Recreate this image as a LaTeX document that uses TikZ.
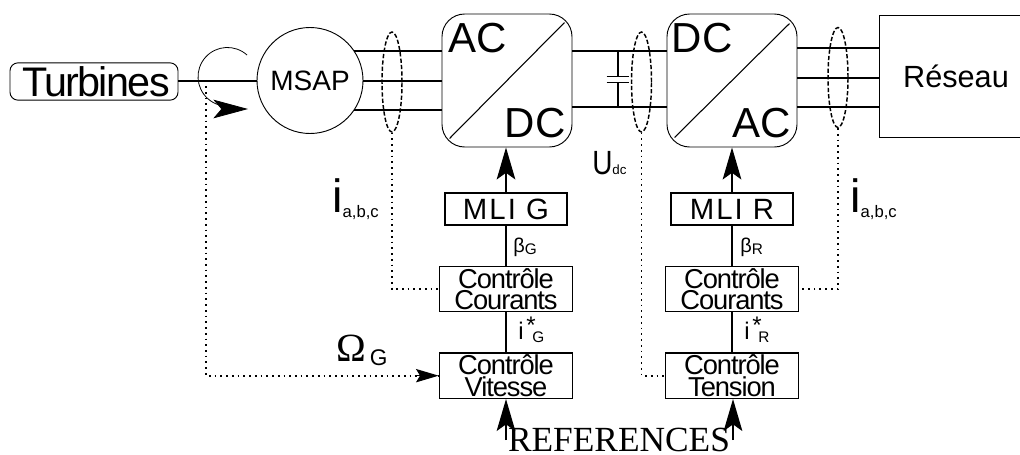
\documentclass[tikz,border=0pt]{standalone}
\usepackage{fontspec}
\setmainfont{Liberation Sans}
\newfontfamily\figserif{Liberation Serif}
\newfontfamily\figtight[LetterSpace=-4]{Liberation Sans}
\newfontfamily\figwide[LetterSpace=7]{Liberation Sans}
\usetikzlibrary{shapes.geometric, arrows.meta, positioning}
\newcommand{\fsize}[1]{\fontsize{#1}{#1}\selectfont}
\tikzstyle{conv} = [rectangle, rounded corners=17pt, draw=black, line width=0.7pt,
    minimum width=97.5pt, minimum height=99.75pt]
\tikzstyle{bigtext} = [inner sep=0pt, font=\fsize{31.5}]
\tikzstyle{ctrl} = [rectangle, draw=black, line width=1pt, minimum width=100pt,
    minimum height=34pt, inner sep=0pt, align=center,
    font=\figtight\fontsize{20.5}{14.3}\selectfont]
\tikzstyle{mli} = [rectangle, draw=black, line width=1pt, minimum width=91.5pt,
    minimum height=24pt, inner sep=0pt, font=\figwide\fsize{22}]
\tikzstyle{tore} = [ellipse, draw=black, line width=1.1pt, dash pattern=on 3.2pt off 1.6pt,
    minimum width=15pt, minimum height=75pt, inner sep=0pt]
\tikzstyle{wire} = [line width=1.5pt]
\tikzstyle{sense} = [line width=1.3pt, dash pattern=on 1.3pt off 3pt]
\tikzstyle{lab} = [inner sep=0pt, anchor=base west]
\tikzstyle{arrow} = [line width=1pt,-{Stealth[length=24pt,width=14pt,inset=5pt]}]
\begin{document}
\begin{tikzpicture}[x=0.75pt, y=-0.75pt, node distance=30pt]
  \useasboundingbox (0,0) rectangle (1020,454);
  \node[rectangle, rounded corners=6pt, draw=black, line width=0.7pt, minimum width=126pt,
    minimum height=28pt, inner sep=0pt, font=\figtight\fsize{31}](turb) at (94,81.5){\hspace{3pt}Turbines};
  \node[circle, draw=black, line width=0.7pt, minimum size=79.5pt, inner sep=0pt,
    font=\fsize{21}](msap) at (310,80.5){MSAP};
  \node[conv](acdc) at (507,80.5){};
  \node[conv](dcac) at (732,80.5){};
  \node[rectangle, draw=black, line width=0.7pt, minimum width=115.5pt, minimum height=91pt,
    inner sep=0pt, font=\fsize{23}](res) at (956,76.5){Réseau};

  \node[bigtext](acg) at (477.5,38){AC};
  \node[bigtext](dcg) at (535,123){DC};
  \node[bigtext](dcr) at (702,38){DC};
  \node[bigtext](acr) at (762,123){AC};

  \node[mli](mlig) at (506,209){MLI G};
  \node[ctrl, below=of mlig](ccg){Contrôle\\Courants};
  \node[ctrl, below=of ccg](cvit){Contrôle\\Vitesse};
  \node[mli](mlir) at (732,209){MLI R};
  \node[ctrl, below=of mlir](ccr){Contrôle\\Courants};
  \node[ctrl, below=of ccr](cten){Contrôle\\Tension};

  \node[tore](tore1) at (392,82){};
  \node[tore](tore2) at (641.5,82){};
  \node[tore](tore3) at (838,77.5){};

  % machine side and grid side wires
  \coordinate(shaft) at (206,80.5);
  \draw[wire](shaft -| turb.east)--(msap.west);
  \draw[wire](msap.34)--(msap.34 -| acdc.west);
  \draw[wire](msap.east)--(msap.east -| acdc.west);
  \draw[wire](msap.-34)--(msap.-34 -| acdc.west);
  \coordinate(resa) at (797,48);
  \coordinate(resb) at (797,77.5);
  \coordinate(resc) at (797,107);
  \draw[wire](resa)--(resa -| res.west);
  \draw[wire](resb)--(resb -| res.west);
  \draw[wire](resc)--(resc -| res.west);

  % dc link
  \coordinate(dcup) at (618,51);
  \coordinate(dclow) at (618,107);
  \coordinate(capa) at (618,76.5);
  \coordinate(capb) at (618,82.5);
  \draw[wire](dcup -| acdc.east)--(dcup -| dcac.west);
  \draw[wire](dclow -| acdc.east)--(dclow -| dcac.west);
  \draw[line width=1pt](dcup)--(capa);
  \draw[line width=1pt](dclow)--(capb);
  \draw[line width=1pt]([xshift=-8.5pt]capa)--([xshift=8.5pt]capa);
  \draw[line width=1pt]([xshift=-8.5pt]capb)--([xshift=8.5pt]capb);

  \draw[line width=0.8pt]([shift={(8,-9)}]acdc.south west)--([shift={(-8,9)}]acdc.north east);
  \draw[line width=0.8pt]([shift={(8,-10)}]dcac.south west)--([shift={(-8,10)}]dcac.north east);

  \draw[arrow](mlig.north)--(mlig.north |- acdc.south);
  \draw[arrow](mlir.north)--(mlir.north |- dcac.south);
  \draw[line width=1.1pt](mlig)--(ccg);
  \draw[line width=1.1pt](ccg)--(cvit);
  \draw[line width=1.1pt](mlir)--(ccr);
  \draw[line width=1.1pt](ccr)--(cten);

  % measures
  \draw[sense](tore1.south)|-(ccg.west);
  \draw[sense](tore2.south)|-(cten.west);
  \draw[sense](tore3.south)|-(ccr.east);
  \draw[sense](shaft)|-(cvit.west);
  \draw[line width=0.9pt,-{Stealth[length=17pt,width=10pt,inset=3pt]}]
    ([xshift=-18pt]cvit.west)--(cvit.west);

  % rotation sign
  \coordinate(rotstart) at (247,55);
  \coordinate(rottip) at (248,109);
  \draw[line width=0.6pt,-{Stealth[length=26pt,width=14pt,inset=6pt]}](rotstart)
    arc[start angle=48, end angle=255, radius=22pt] .. controls (226,109) .. (rottip);

  % references
  \node[inner sep=0pt, anchor=base, font=\figserif\fsize{26.5}](refs) at (619,451){REFERENCES};
  \coordinate(refg) at (506,440);
  \coordinate(refr) at (733,440);
  \draw[arrow](refg)--(refg |- cvit.south);
  \draw[arrow](refr)--(refr |- cten.south);

  % labels
  \node[lab, font=\fsize{35}](ig) at (332,212){i\raisebox{-4pt}{\fsize{12.5}a,b,c}};
  \node[lab, font=\fsize{35}](ir) at (850,212){i\raisebox{-4pt}{\fsize{12.5}a,b,c}};
  \node[lab, font=\fsize{21}](udc) at (592,174){\scalebox{1}[1.2]{U}\fsize{10}dc};
  \node[lab, font=\fsize{15}](betag) at (513,252){β\raisebox{-1.5pt}{\fsize{11.5}G}};
  \node[lab, font=\fsize{15}](betar) at (740,252){β\raisebox{-1.5pt}{\fsize{11.5}R}};
  \node[lab, font=\fsize{18}](isg) at (518,339){i\hspace{2pt}\rlap{\raisebox{4.5pt}{*}}\hspace{4.5pt}\raisebox{-2.3pt}{\fsize{11.5}G}};
  \node[lab, font=\fsize{18}](isr) at (744,339){i\hspace{2pt}\rlap{\raisebox{4.5pt}{*}}\hspace{4.5pt}\raisebox{-2.3pt}{\fsize{11.5}R}};
  \node[lab, font=\figserif\fsize{30}](omega) at (336,361){Ω\hspace{3pt}\raisebox{-3pt}{\normalfont\fsize{17}G}};
\end{tikzpicture}
\end{document}
